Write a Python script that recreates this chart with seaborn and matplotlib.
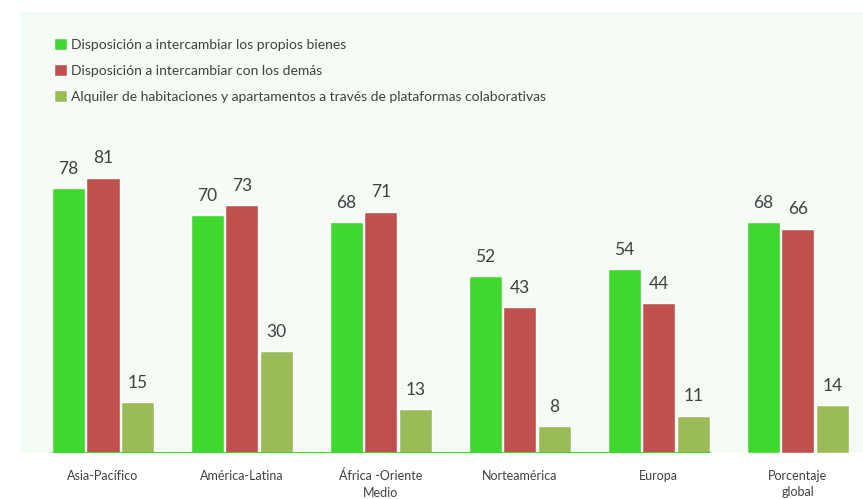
import matplotlib
matplotlib.use("Agg")
import matplotlib.pyplot as plt
import seaborn as sns
import pandas as pd

regions = ["Asia-Pacífico", "América-Latina", "África -Oriente\nMedio",
           "Norteamérica", "Europa", "Porcentaje\nglobal"]
series_names = ["Disposición a intercambiar los propios bienes",
                "Disposición a intercambiar con los demás",
                "Alquiler de habitaciones y apartamentos a través de plataformas colaborativas"]
propios = [78, 70, 68, 52, 54, 68]
demas = [81, 73, 71, 43, 44, 66]
alquiler = [15, 30, 13, 8, 11, 14]
colors = ["#3ed82f", "#c0504d", "#9bbb59"]

rows = []
for name, vals in zip(series_names, [propios, demas, alquiler]):
    for r, v in zip(regions, vals):
        rows.append({"region": r, "serie": name, "valor": v})
df = pd.DataFrame(rows)

sns.set_theme(style="white")
plt.rcParams["font.family"] = ["Lato", "DejaVu Sans"]

fig = plt.figure(figsize=(8.63, 4.99), dpi=100, facecolor="white")
ax = fig.add_axes([21/863, 1-453/499, 1-21/863, (453-12)/499])
ax.set_facecolor("#f5fbf5")

sns.barplot(data=df, x="region", y="valor", hue="serie", palette=colors,
            width=0.745, gap=0.04, ax=ax, saturation=1, legend=True)

for cont in ax.containers:
    ax.bar_label(cont, padding=8, fontsize=12.5, color="#404040")

# baseline under the first five groups
patches = [p for c in ax.containers for p in c]
xs_left = min(p.get_x() for p in patches)
europa_right = max(p.get_x() + p.get_width() for p in patches if p.get_x() < 4.5)
ax.hlines(0, xs_left, europa_right, color="#3ed82f", lw=2.2, zorder=5)

ax.set_xlim(-0.59, 5.47)
ax.set_ylim(0, 441/3.4)
for s in ax.spines.values():
    s.set_visible(False)
ax.set_yticks([])
ax.set_xlabel("")
ax.set_ylabel("")
ax.tick_params(axis="x", length=0, pad=12, labelsize=9, colors="#404040")
for t in ax.get_xticklabels():
    t.set_linespacing(1.45)

handles, labels = ax.get_legend_handles_labels()
ax.legend(handles, labels, loc="upper left", bbox_to_anchor=(0.039, 0.941),
          frameon=False, fontsize=10, handlelength=0.95, handleheight=0.95,
          handletextpad=0.3, labelspacing=0.95, labelcolor="#404040",
          borderaxespad=0, borderpad=0)

fig.savefig("out.png", dpi=100, facecolor="white")
